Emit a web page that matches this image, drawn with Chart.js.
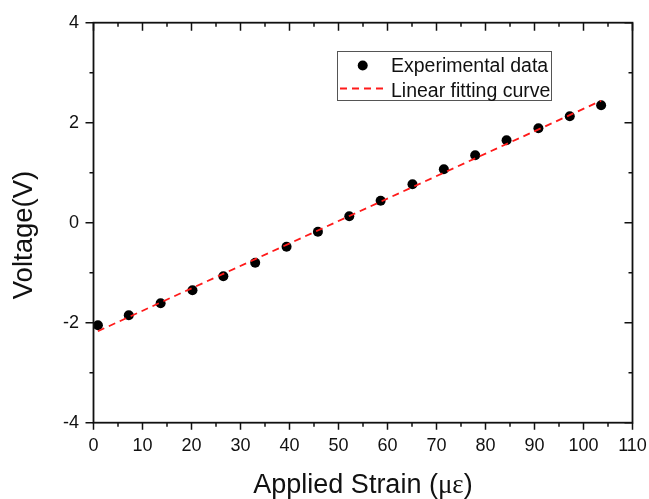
<!DOCTYPE html>
<html>
<head>
<meta charset="utf-8">
<script src="https://cdn.jsdelivr.net/npm/chart.js@4.4.1/dist/chart.umd.min.js"></script>
<style>
  html, body { margin: 0; padding: 0; background: #fff; }
  #c { display: block; }
</style>
</head>
<body>
<canvas id="c" width="649" height="499"></canvas>
<script>
// Measured sensor output versus applied strain
const strain  = [0.9, 7.2, 13.7, 20.2, 26.5, 33.0, 39.4, 45.8, 52.2, 58.6, 65.1, 71.5, 77.9, 84.3, 90.8, 97.2, 103.6];
const voltage = [-2.05, -1.85, -1.61, -1.35, -1.07, -0.80, -0.48, -0.18, 0.13, 0.44, 0.77, 1.07, 1.35, 1.65, 1.89, 2.13, 2.35];

// Straight-line fit drawn across the measured range
const fitStrain  = [0.9, 103.6];
const fitVoltage = [-2.17, 2.44];

// Axis ranges and tick steps
const xRange = [0, 110];
const xMajorStep = 10;
const xMinorStep = 5;
const yRange = [-4, 4];
const yMajorStep = 2;
const yMinorStep = 1;

const seriesLabels = ['Experimental data', 'Linear fitting curve'];
const xTitle = ['Applied Strain (', 'με', ')'];
const yTitle = 'Voltage(V)';

const SANS = '"Liberation Sans", Arial, sans-serif';
const SERIF = '"Liberation Serif", "Times New Roman", serif';
const INK = '#111';

const toPoints = (xs, ys) => xs.map((x, i) => ({ x: x, y: ys[i] }));

// Frame around the plot plus major/minor tick marks on all four sides
const framePlugin = {
  id: 'frameTicks',
  afterDatasetsDraw(chart) {
    const { ctx, chartArea: a, scales: { x, y } } = chart;
    ctx.save();
    ctx.strokeStyle = INK;
    ctx.lineCap = 'butt';
    ctx.lineWidth = 1.5;
    ctx.beginPath();
    for (let v = xRange[0]; v <= xRange[1] + 1e-9; v += xMinorStep) {
      const major = Math.abs(v / xMajorStep - Math.round(v / xMajorStep)) < 1e-9;
      const px = x.getPixelForValue(v);
      // bottom: outward
      ctx.moveTo(px, a.bottom);
      ctx.lineTo(px, a.bottom + (major ? 7 : 4));
      // top: inward
      ctx.moveTo(px, a.top);
      ctx.lineTo(px, a.top + (major ? 8 : 4));
    }
    for (let v = yRange[0]; v <= yRange[1] + 1e-9; v += yMinorStep) {
      const major = Math.abs(v / yMajorStep - Math.round(v / yMajorStep)) < 1e-9;
      const py = y.getPixelForValue(v);
      // left: outward
      ctx.moveTo(a.left, py);
      ctx.lineTo(a.left - (major ? 8 : 4), py);
      // right: inward
      ctx.moveTo(a.right, py);
      ctx.lineTo(a.right - (major ? 8 : 4), py);
    }
    ctx.stroke();
    ctx.lineWidth = 1.8;
    ctx.strokeRect(a.left, a.top, a.right - a.left, a.bottom - a.top);
    ctx.restore();
  }
};

// Axis titles (the strain unit uses serif Greek letters)
const titlePlugin = {
  id: 'axisTitles',
  afterDraw(chart) {
    const { ctx, chartArea: a } = chart;
    ctx.save();
    ctx.fillStyle = INK;
    ctx.textBaseline = 'alphabetic';
    ctx.textAlign = 'left';
    const size = 27;
    const fonts = [size + 'px ' + SANS, size + 'px ' + SERIF, size + 'px ' + SANS];
    const widths = xTitle.map((t, i) => { ctx.font = fonts[i]; return ctx.measureText(t).width; });
    const total = widths.reduce((s, w) => s + w, 0);
    let cx = (a.left + a.right) / 2 - total / 2;
    xTitle.forEach((t, i) => { ctx.font = fonts[i]; ctx.fillText(t, cx, 493); cx += widths[i]; });

    ctx.translate(32, 235);
    ctx.rotate(-Math.PI / 2);
    ctx.textAlign = 'center';
    ctx.font = '27.5px ' + SANS;
    ctx.fillText(yTitle, 0, 0);
    ctx.restore();
  }
};

// Boxed legend inside the plot area
const legendPlugin = {
  id: 'boxLegend',
  afterDraw(chart) {
    const { ctx } = chart;
    const box = { left: 337, top: 51, right: 552, bottom: 101 };
    const rows = [65.5, 90.5];
    ctx.save();
    ctx.fillStyle = '#fff';
    ctx.fillRect(box.left, box.top, box.right - box.left, box.bottom - box.top);
    ctx.strokeStyle = '#555';
    ctx.lineWidth = 1;
    ctx.strokeRect(box.left + 0.5, box.top + 0.5, box.right - box.left - 1, box.bottom - box.top - 1);
    chart.data.datasets.forEach((ds, i) => {
      const yy = rows[i];
      if (ds.showLine) {
        ctx.strokeStyle = ds.borderColor;
        ctx.lineWidth = ds.borderWidth;
        ctx.setLineDash(ds.borderDash || []);
        ctx.beginPath();
        ctx.moveTo(340, yy - 2);
        ctx.lineTo(386, yy - 2);
        ctx.stroke();
        ctx.setLineDash([]);
      } else {
        ctx.fillStyle = ds.backgroundColor;
        ctx.beginPath();
        ctx.arc(362.7, yy, ds.pointRadius, 0, Math.PI * 2);
        ctx.fill();
      }
      ctx.fillStyle = INK;
      ctx.font = '19.5px ' + SANS;
      ctx.textAlign = 'left';
      ctx.textBaseline = 'middle';
      ctx.fillText(ds.label, 391, yy + 1);
    });
    ctx.restore();
  }
};

new Chart(document.getElementById('c'), {
  type: 'scatter',
  data: {
    datasets: [
      {
        label: seriesLabels[0],
        data: toPoints(strain, voltage),
        showLine: false,
        pointRadius: 5,
        pointHoverRadius: 5,
        pointStyle: 'circle',
        backgroundColor: '#000',
        borderColor: '#000',
        borderWidth: 0,
        order: 2
      },
      {
        label: seriesLabels[1],
        data: toPoints(fitStrain, fitVoltage),
        showLine: true,
        pointRadius: 0,
        borderColor: '#ff1a1a',
        backgroundColor: '#ff1a1a',
        borderWidth: 1.8,
        borderDash: [7, 5],
        fill: false,
        order: 1
      }
    ]
  },
  options: {
    responsive: false,
    animation: false,
    devicePixelRatio: 1,
    layout: { padding: { top: 22.7, right: 16.5, left: 0, bottom: 0 } },
    plugins: { legend: { display: false }, tooltip: { enabled: false } },
    scales: {
      x: {
        type: 'linear',
        position: 'bottom',
        min: xRange[0],
        max: xRange[1],
        grid: { display: false, drawTicks: false },
        border: { display: false },
        ticks: {
          stepSize: xMajorStep,
          padding: 12.5,
          maxRotation: 0,
          autoSkip: false,
          color: INK,
          font: { family: SANS, size: 18 }
        },
        afterFit(s) { s.height = 76.3; s.paddingLeft = 0; s.paddingRight = 0; }
      },
      y: {
        type: 'linear',
        position: 'left',
        min: yRange[0],
        max: yRange[1],
        grid: { display: false, drawTicks: false },
        border: { display: false },
        ticks: {
          stepSize: yMajorStep,
          padding: 14.5,
          color: INK,
          font: { family: SANS, size: 18 }
        },
        afterFit(s) { s.width = 93.5; s.paddingTop = 0; s.paddingBottom = 0; }
      }
    }
  },
  plugins: [framePlugin, titlePlugin, legendPlugin]
});
</script>
</body>
</html>
